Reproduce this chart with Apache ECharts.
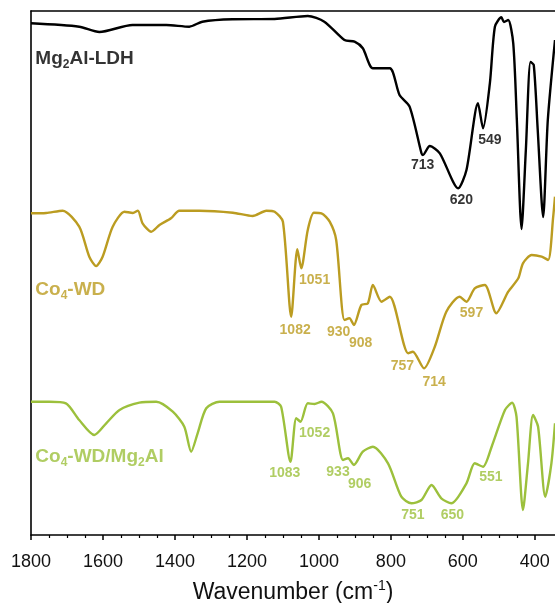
<!DOCTYPE html>
<html>
<head>
<meta charset="utf-8">
<script src="https://cdn.jsdelivr.net/npm/echarts@6/dist/echarts.min.js"></script>
<style>
html,body{margin:0;padding:0;background:#fff;}
#chart{width:555px;height:603px;}
</style>
</head>
<body>
<div id="chart"></div>
<script>
// ---- Data (wavenumber in cm-1, offset transmittance in arbitrary units) ----
var mgWn = [1800,1666,1610,1518,1424,1360,1324,1240,1123,1031,985,929,901,878,850,803,776,748,715,711,692,664,613,590,558,544,525,511,493,486,474,460,450,437,425,412,403,392,377,364,344];
var mgT  = [511.7,508.3,503,510,510,508.3,513.3,515.7,516,519,513.3,495,493.3,486.7,466.7,466.7,440,428.3,381.7,380,389,381.7,346.7,365,431.7,406.7,451.7,508.3,517.7,513,515,491.7,415,306,385,473,470,405,318,415,495];

var coWn = [1800,1758,1712,1666,1638,1619,1601,1573,1540,1517,1503,1490,1466,1443,1411,1388,1332,1239,1184,1146,1123,1100,1077,1060,1049,1031,1014,993,970,952,929,915,903,882,864,850,826,803,752,739,708,678,646,609,590,567,539,507,474,446,433,409,381,363,349,344];
var coT  = [321.7,322,324.3,308.3,278.3,269,278.3,308.3,323.3,322,324.3,311.7,303.3,310,316.7,324.3,324.3,322.3,319,324.3,323.3,313.3,218.3,285.7,266.7,305,322.3,321.7,313.3,295,215,216.7,210,230,231.7,250,233.3,238.3,181.7,183.3,166.7,188.3,223.3,238.3,233.3,246.7,250,221.7,243.3,256.7,271.7,280,278.3,275,318.3,338.3];

var compWn = [1800,1749,1703,1666,1624,1591,1554,1499,1452,1406,1374,1355,1337,1313,1276,1123,1105,1079,1063,1051,1031,1012,993,961,933,919,903,878,850,808,771,743,715,687,660,632,590,567,544,520,483,463,451,433,419,405,391,371,354,344];
var compT  = [133.3,133.3,131.7,115,100,111.7,125,132.3,133.3,123.3,108.3,83.3,101.7,126.7,133.3,133.3,128.3,73.3,116.7,113.3,131.7,131,133.3,121.7,75,76.7,70,83.3,88.3,71.7,38.3,31.7,35,50,36.7,31.7,51.7,71.7,68.3,88.3,125,132.3,118.3,25,71.7,120,108.3,38.3,71.7,111.7];

// peak annotations: [wavenumber, y, text]
var mgPeaks   = [[712,370,'713'],[604,335,'620'],[525,395,'549']];
var coPeaks   = [[1066,205,'1082'],[1012,255,'1051'],[945,203,'930'],[884,192,'908'],[768,169,'757'],[680,153,'714'],[576,222,'597']];
var compPeaks = [[1095,62,'1083'],[1012,102,'1052'],[947,63,'933'],[887,51,'906'],[739,20,'751'],[629,20,'650'],[522,58,'551']];

// sample names: [wavenumber, y, text]
var names = [[1788,476,'{b|Mg}{s|2}{b|Al-LDH}'],[1788,245,'{b|Co}{s|4}{b|-WD}'],[1788,78,'{b|Co}{s|4}{b|-WD/Mg}{s|2}{b|Al}']];

var majorTicks = [1800,1600,1400,1200,1000,800,600,400];
var minorTicks = [1750,1700,1650,1550,1500,1450,1350,1300,1250,1150,1100,1050,950,900,850,750,700,650,550,500,450];

var colors = ['#000000','#BB9C21','#9CC03C'];

function pairs(wn, t){ return wn.map(function(w,i){ return [w, t[i]]; }); }

var chart = echarts.init(document.getElementById('chart'));
var FONT = 'Liberation Sans, Arial, sans-serif';

function peakSeries(arr, color){
  return {
    type:'scatter', symbolSize:0, silent:true, z:5,
    data: arr.map(function(p){ return {value:[p[0],p[1]], name:p[2]}; }),
    label:{show:true, position:'inside', formatter:function(d){return d.name;},
      color:color, fontSize:14, fontWeight:'bold', fontFamily:FONT}
  };
}
function lineSeries(wn, t, color){
  return {
    type:'line', data:pairs(wn,t), showSymbol:false, smooth:0.25,
    lineStyle:{color:color, width:2.4}, silent:true, z:3
  };
}

var option = {
  animation:false,
  backgroundColor:'#fff',
  grid:{left:31, right:0, top:11, bottom:68, containLabel:false, outerBoundsMode:'none'},
  xAxis:[{
    type:'value', inverse:true, min:344, max:1800,
    axisLine:{show:true, lineStyle:{color:'#000', width:1.6}},
    axisTick:{show:true, length:5, inside:false, customValues:majorTicks, lineStyle:{color:'#000', width:1.5}},
    axisLabel:{show:true, customValues:majorTicks, margin:18, fontSize:18, color:'#111', fontFamily:FONT,
      formatter:function(v){ return String(v); }},
    splitLine:{show:false},
    name:'Wavenumber (cm{sup|-1})', nameLocation:'middle', nameGap:44,
    nameTextStyle:{fontSize:23, color:'#111', fontFamily:FONT, lineHeight:28,
      rich:{sup:{fontSize:14, verticalAlign:'top', lineHeight:14, color:'#111', fontFamily:FONT}}}
  },{
    type:'value', inverse:true, min:344, max:1800, position:'bottom',
    axisLine:{show:false},
    axisTick:{show:true, length:3, customValues:minorTicks, lineStyle:{color:'#000', width:1.2}},
    axisLabel:{show:false}, splitLine:{show:false}
  },{
    type:'value', inverse:true, min:344, max:1800, position:'top',
    axisLine:{show:true, lineStyle:{color:'#000', width:1.6}},
    axisTick:{show:false}, axisLabel:{show:false}, splitLine:{show:false}
  }],
  yAxis:{
    type:'value', min:0, max:524,
    axisLine:{show:true, lineStyle:{color:'#000', width:1.6}},
    axisTick:{show:false}, axisLabel:{show:false}, splitLine:{show:false}
  },
  series:[
    lineSeries(mgWn, mgT, colors[0]),
    lineSeries(coWn, coT, colors[1]),
    lineSeries(compWn, compT, colors[2]),
    peakSeries(mgPeaks, colors[0]),
    peakSeries(coPeaks, colors[1]),
    peakSeries(compPeaks, colors[2]),
    {
      type:'scatter', symbolSize:0, silent:true, z:6,
      data: names.map(function(p,i){ return {value:[p[0],p[1]], name:p[2]}; }),
      label:{show:true, position:'right', distance:0,
        formatter:function(d){return d.name;}}
    }
  ]
};

// per-name colouring with rich styles
option.series[6].data.forEach(function(d, i){
  var c = colors[i];
  d.label = {color:c, rich:{
    b:{fontSize:19, fontWeight:'bold', color:c, fontFamily:FONT, lineHeight:23},
    s:{fontSize:12, fontWeight:'bold', color:c, fontFamily:FONT, verticalAlign:'bottom', lineHeight:12}
  }};
});

chart.setOption(option);
</script>
</body>
</html>
